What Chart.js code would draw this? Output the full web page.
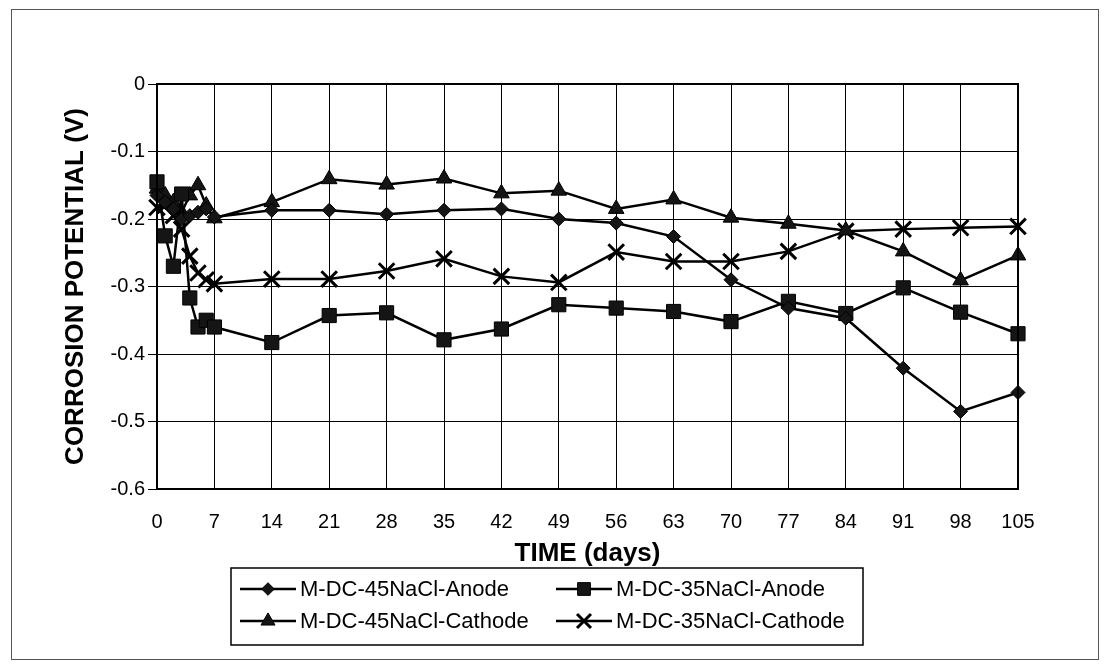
<!DOCTYPE html>
<html>
<head>
<meta charset="utf-8">
<script src="https://cdn.jsdelivr.net/npm/chart.js@4.4.1/dist/chart.umd.min.js"></script>
<style>
  html, body { margin: 0; padding: 0; background: #fff; }
  #wrap { width: 1112px; height: 664px; }
</style>
</head>
<body>
<div id="wrap"><canvas id="chart" width="1112" height="664"></canvas></div>
<script>
// time in days
const days = [0, 1, 2, 3, 4, 5, 6, 7, 14, 21, 28, 35, 42, 49, 56, 63, 70, 77, 84, 91, 98, 105];

// corrosion potential (V)
const anode45 = [-0.165, -0.175, -0.185, -0.200, -0.195, -0.190, -0.185, -0.197, -0.187, -0.187, -0.193, -0.187, -0.185, -0.200, -0.206, -0.226, -0.290, -0.332, -0.347, -0.421, -0.485, -0.457];
const anode35 = [-0.145, -0.225, -0.270, -0.163, -0.317, -0.360, -0.350, -0.360, -0.383, -0.343, -0.339, -0.379, -0.363, -0.327, -0.332, -0.337, -0.352, -0.322, -0.340, -0.302, -0.338, -0.370];
const cathode45 = [-0.155, -0.165, -0.175, -0.190, -0.165, -0.150, -0.180, -0.199, -0.175, -0.141, -0.149, -0.140, -0.162, -0.158, -0.185, -0.171, -0.198, -0.207, -0.217, -0.248, -0.291, -0.254];
const cathode35 = [-0.183, -0.180, -0.195, -0.215, -0.255, -0.280, -0.290, -0.296, -0.289, -0.289, -0.277, -0.259, -0.285, -0.294, -0.249, -0.263, -0.263, -0.248, -0.218, -0.215, -0.213, -0.211];

const seriesNames = ['M-DC-45NaCl-Anode', 'M-DC-35NaCl-Anode', 'M-DC-45NaCl-Cathode', 'M-DC-35NaCl-Cathode'];
const xTicks = [0, 7, 14, 21, 28, 35, 42, 49, 56, 63, 70, 77, 84, 91, 98, 105];
const yTicks = [0, -0.1, -0.2, -0.3, -0.4, -0.5, -0.6];

const FONT = '"Liberation Sans", Arial, Helvetica, sans-serif';

function makeSeries(label, values, style, radius, bw) {
  return {
    label: label,
    data: days.map((d, i) => ({ x: d, y: values[i] })),
    borderColor: '#000',
    borderWidth: 2.5,
    pointStyle: style,
    pointRadius: radius,
    pointHoverRadius: radius,
    pointBackgroundColor: '#151515',
    pointBorderColor: '#000',
    pointBorderWidth: bw,
    tension: 0,
    clip: false,
  };
}

// white page, plot frame, outer frame and the excel style legend box
const paperPlugin = {
  id: 'paper',
  beforeDraw(chart) {
    const ctx = chart.ctx;
    ctx.save();
    ctx.fillStyle = '#fff';
    ctx.fillRect(0, 0, chart.width, chart.height);
    ctx.restore();
  },
  afterDraw(chart) {
    const { ctx, chartArea: a } = chart;
    ctx.save();
    ctx.strokeStyle = '#555';
    ctx.lineWidth = 1;
    ctx.strokeRect(11.5, 9.5, 1087, 650);

    ctx.strokeStyle = '#000';
    ctx.lineWidth = 2;
    ctx.strokeRect(a.left, a.top, a.right - a.left, a.bottom - a.top);

    ctx.lineWidth = 1.5;
    ctx.strokeRect(231, 568, 632, 77);

    const cols = [240, 556];
    const rows = [589, 621];
    ctx.font = '22px ' + FONT;
    ctx.textBaseline = 'middle';
    ctx.textAlign = 'left';
    chart.data.datasets.forEach((ds, i) => {
      const x = cols[i % 2];
      const y = rows[Math.floor(i / 2)];
      ctx.strokeStyle = '#000';
      ctx.lineWidth = 2.5;
      ctx.beginPath();
      ctx.moveTo(x, y);
      ctx.lineTo(x + 56, y);
      ctx.stroke();
      ctx.fillStyle = ds.pointBackgroundColor;
      ctx.strokeStyle = ds.pointBorderColor;
      ctx.lineWidth = ds.pointBorderWidth;
      Chart.helpers.drawPoint(ctx, {
        pointStyle: ds.pointStyle,
        radius: ds.pointRadius * 0.9,
        rotation: 0,
        borderWidth: ds.pointBorderWidth,
      }, x + 28, y);
      ctx.fillStyle = '#000';
      ctx.fillText(ds.label, x + 60, y + 1);
    });
    ctx.restore();
  },
};

new Chart(document.getElementById('chart'), {
  type: 'line',
  data: {
    datasets: [
      makeSeries(seriesNames[0], anode45, 'rectRot', 7, 1),
      makeSeries(seriesNames[1], anode35, 'rect', 10, 1),
      makeSeries(seriesNames[2], cathode45, 'triangle', 9, 1),
      makeSeries(seriesNames[3], cathode35, 'crossRot', 11, 3),
    ],
  },
  options: {
    responsive: false,
    animation: false,
    devicePixelRatio: 1,
    layout: { padding: { left: 0, right: 94, top: 84, bottom: 0 } },
    plugins: {
      legend: { display: false },
      tooltip: { enabled: false },
    },
    scales: {
      x: {
        type: 'linear',
        min: 0,
        max: 105,
        afterBuildTicks: (s) => { s.ticks = xTicks.map((v) => ({ value: v })); },
        afterFit: (s) => { s.height = 175; },
        grid: { color: '#000', lineWidth: 1, drawTicks: false },
        border: { color: '#000', width: 2 },
        ticks: {
          padding: 21,
          color: '#000',
          maxRotation: 0,
          autoSkip: false,
          font: { family: FONT, size: 20 },
        },
        title: {
          display: true,
          text: 'TIME (days)',
          color: '#000',
          font: { family: FONT, size: 26, weight: 'bold' },
          padding: { top: 0, bottom: 95 },
        },
      },
      y: {
        type: 'linear',
        min: -0.6,
        max: 0,
        afterBuildTicks: (s) => { s.ticks = yTicks.map((v) => ({ value: v })); },
        afterFit: (s) => { s.width = 157; },
        grid: { color: '#000', lineWidth: 1, drawTicks: true, tickLength: 9 },
        border: { color: '#000', width: 2 },
        ticks: {
          padding: 3,
          color: '#000',
          font: { family: FONT, size: 20 },
          callback: (v) => (v === 0 ? '0' : v.toFixed(1)),
        },
        title: {
          display: true,
          text: 'CORROSION POTENTIAL (V)',
          color: '#000',
          font: { family: FONT, size: 26, weight: 'bold' },
          padding: { top: 60, bottom: 0 },
        },
      },
    },
  },
  plugins: [paperPlugin],
});
</script>
</body>
</html>
